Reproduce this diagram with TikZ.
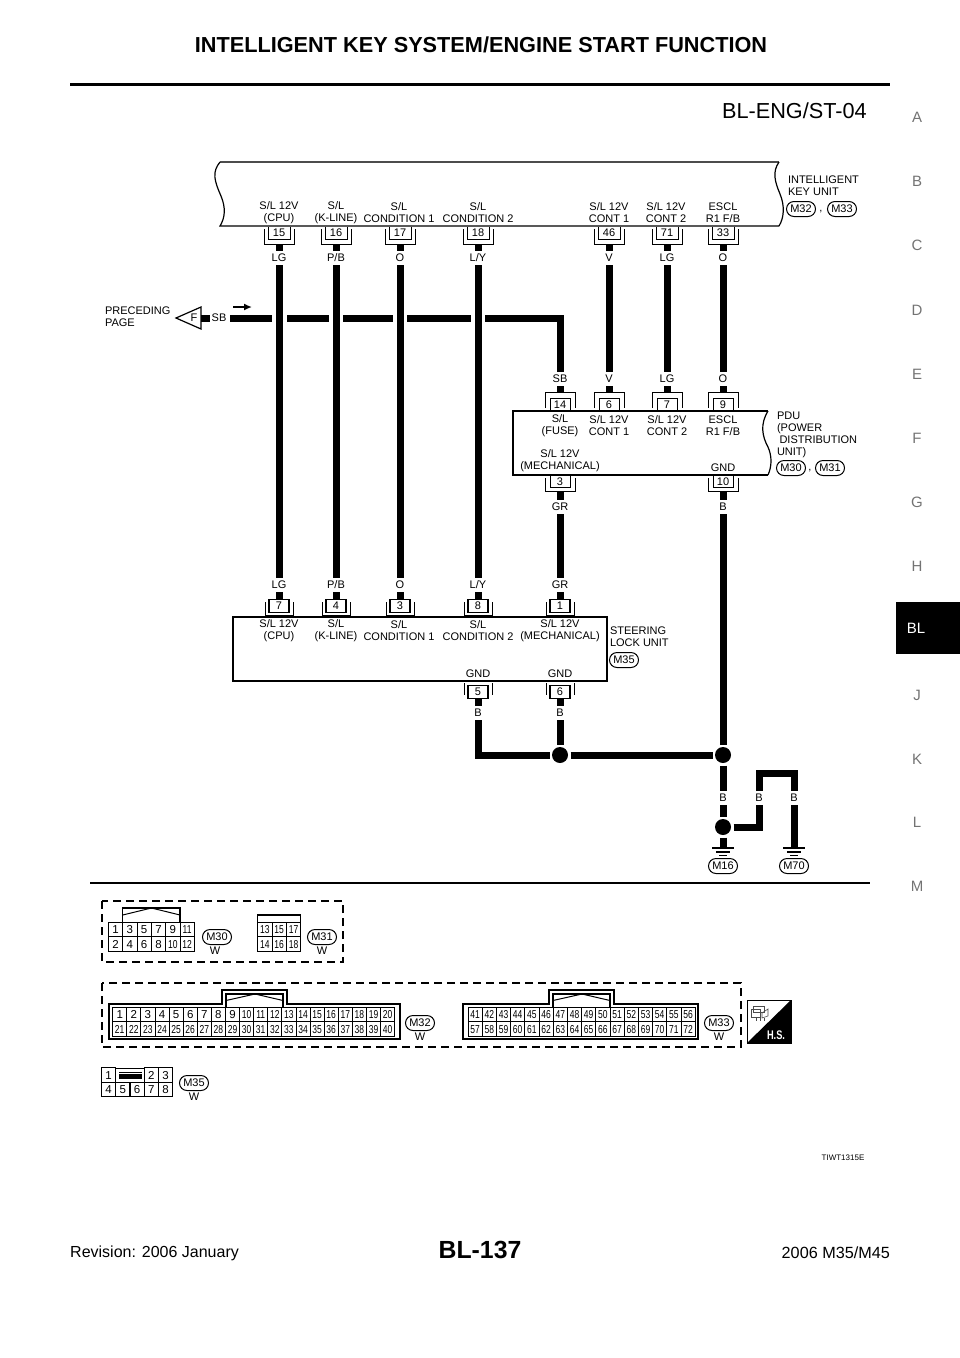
\documentclass[tikz,border=0pt]{standalone}
\usepackage{fontspec}
\setmainfont{Liberation Sans}
\newfontfamily\narrowfont[FakeStretch=0.74]{Liberation Sans}
\usetikzlibrary{shapes.misc,arrows.meta}
\newcommand{\cellnum}[1]{\ifnum#1<10 #1\else{\narrowfont #1}\fi}
\newcommand{\fs}[2]{\fontsize{#1}{#2}\selectfont}
\tikzset{
  lbl/.style={inner sep=0pt,outer sep=0pt,align=center,font=\fs{11}{12}},
  mlbl/.style={lbl,yshift=-1.3pt},
  lblL/.style={lbl,align=left,anchor=west},
  wlbl/.style={lbl,minimum height=14pt},
  wire/.style={line width=7pt,line cap=butt,line join=miter},
  body/.style={line width=1.2pt},
  capsule/.style={draw,rounded rectangle,line width=1pt,inner sep=0pt,minimum width=29pt,minimum height=15pt,font=\fs{11}{12}},
  pinbox/.style={inner sep=0pt,outer sep=0pt,minimum width=30pt,minimum height=18pt,font=\fs{11}{12}},
  pinln/.style={line width=1pt},
  junction/.style={circle,fill=black,inner sep=0pt,minimum size=16pt,outer sep=2.5pt},
  cell/.style={draw,line width=.8pt,inner sep=0pt,outer sep=0pt,font=\fs{11.5}{12},text height=8.2pt,text depth=0pt},
  dashbox/.style={line width=1.3pt,dash pattern=on 8pt off 5pt},
  conn/.style={line width=1.2pt},
  sideL/.style={inner sep=0pt,font=\fs{15}{16},text=black!55},
}
% top unit pin (hangs under a body, U shapes)
\newcommand{\pinU}[3]{%
  \node[pinbox] (#1) at (#2,235) {};
  \node[inner sep=0pt,font=\fs{11}{12}] (#1n) at (#2,233) {#3};
  \draw[pinln] (#2-11,227)--(#2-11,239)--(#2+11,239)--(#2+11,227);
  \draw[pinln] (#2-15,229)--(#2-15,244)--(#2+15,244)--(#2+15,229);
}
% PDU top pin (inverted U, on the body)
\newcommand{\pinP}[3]{%
  \node[pinbox] (#1) at (#2,401) {};
  \node[inner sep=0pt,font=\fs{11}{12}] (#1n) at (#2,404.5) {#3};
  \draw[pinln] (#2-10,410)--(#2-10,398)--(#2+10,398)--(#2+10,410);
  \draw[pinln] (#2-15,408)--(#2-15,392)--(#2+15,392)--(#2+15,408);
}
% PDU bottom pin
\newcommand{\pinQ}[3]{%
  \node[pinbox] (#1) at (#2,482) {};
  \node[inner sep=0pt,font=\fs{11}{12}] (#1n) at (#2,482) {#3};
  \draw[pinln] (#2-10,476)--(#2-10,487)--(#2+10,487)--(#2+10,476);
  \draw[pinln] (#2-15,478)--(#2-15,491)--(#2+15,491)--(#2+15,478);
}
% steering top pin
\newcommand{\pinS}[3]{%
  \node[pinbox] (#1) at (#2,607) {};
  \node[draw,line width=1.2pt,inner sep=0pt,minimum width=20pt,minimum height=13pt,font=\fs{11}{12}] (#1n) at (#2,606) {#3};
  \draw[pinln] (#2-14,602)--(#2-14,615)--(#2+14,615)--(#2+14,602);
}
% steering bottom pin
\newcommand{\pinT}[3]{%
  \node[pinbox] (#1) at (#2,691) {};
  \node[draw,line width=1.2pt,inner sep=0pt,minimum width=20pt,minimum height=13pt,font=\fs{11}{12}] (#1n) at (#2,692) {#3};
  \draw[pinln] (#2-14,683)--(#2-14,695);
  \draw[pinln] (#2+14,683)--(#2+14,695);
}
\begin{document}
\begin{tikzpicture}[x=1pt,y=-1pt]
\useasboundingbox (0,0) rectangle (960,1358);

% page furniture
\node[inner sep=0pt,font=\bfseries\fs{21.7}{23}] (title) at (481,45) {INTELLIGENT KEY SYSTEM/ENGINE START FUNCTION};
\coordinate (ruleL) at (70,84); \coordinate (ruleR) at (890,84);
\draw[line width=3pt] (ruleL)--(ruleR);
\node[inner sep=0pt,anchor=east,font=\fs{21.7}{23}] (code) at (867,111) {BL-ENG/ST-04};
\foreach \t/\y in {A/117,B/181,C/245,D/310,E/374,F/438,G/502,H/566,J/695,K/759,L/822,M/886}
  \node[sideL] (side\t) at (917,\y) {\t};
\fill[black] (896,602) rectangle (960,654);
\node[inner sep=0pt,text=white,font=\fs{15}{16}] (sideBL) at (916,628) {BL};
\node[inner sep=0pt,anchor=west,font=\fs{16}{18}] (rev) at (70,1253) {Revision: 2006 January};
\node[inner sep=0pt,font=\bfseries\fs{24.8}{26}] (pg) at (480,1250) {BL-137};
\node[inner sep=0pt,anchor=east,font=\fs{16.2}{18}] (yr) at (890,1253) {2006 M35/M45};
\node[inner sep=0pt,font=\fs{8}{9}] (tiwt) at (843,1158) {TIWT1315E};
\coordinate (sepL) at (90,883); \coordinate (sepR) at (870,883);
\draw[line width=2pt] (sepL)--(sepR);

% intelligent key unit body
\draw[line width=2pt,black!70] (220,162)--(779,162);
\draw[body] (220,162) .. controls (212,172) and (214,180) .. (221,196) .. controls (226,208) and (225,218) .. (220,226) -- (779,226);
\draw[body] (779,162) .. controls (772,172) and (775,182) .. (780,194) .. controls (785,206) and (784,218) .. (779,226);
\node[mlbl] (k1) at (279,211) {S/L 12V\\(CPU)};
\node[mlbl] (k2) at (336,211) {S/L\\(K-LINE)};
\node[mlbl] (k3) at (399,211) {S/L\\CONDITION 1};
\node[mlbl] (k4) at (478,211) {S/L\\CONDITION 2};
\node[mlbl] (k5) at (609,211) {S/L 12V\\CONT 1};
\node[mlbl] (k6) at (666,211) {S/L 12V\\CONT 2};
\node[mlbl] (k7) at (723,211) {ESCL\\R1 F/B};
\node[lblL] (kname) at (788,185.5) {INTELLIGENT\\KEY UNIT};
\node[capsule] (cM32) at (801,209) {M32};
\node[lbl] (kcomma) at (821,212) {,};
\node[capsule] (cM33) at (842,209) {M33};

\pinU{p15}{279}{15}\pinU{p16}{336}{16}\pinU{p17}{400}{17}\pinU{p18}{478}{18}
\pinU{p46}{609}{46}\pinU{p71}{667}{71}\pinU{p33}{723}{33}
\node[wlbl] (t15) at (279,258) {LG};
\node[wlbl] (t16) at (336,258) {P/B};
\node[wlbl] (t17) at (400,258) {O};
\node[wlbl] (t18) at (478,258) {L/Y};
\node[wlbl] (t46) at (609,258) {V};
\node[wlbl] (t71) at (667,258) {LG};
\node[wlbl] (t33) at (723,258) {O};
\foreach \n in {15,16,17,18,46,71,33} \draw[wire] (p\n.south)--(t\n.north);

% PDU body
\draw[body] (768,411)--(513,411)--(513,475)--(768,475);
\draw[body] (768,411) .. controls (760,424) and (762,436) .. (768,447) .. controls (772,456) and (772,466) .. (768,475);
\node[mlbl] (d1) at (560,424) {S/L\\(FUSE)};
\node[mlbl] (d2) at (609,424) {S/L 12V\\CONT 1};
\node[mlbl] (d3) at (667,424) {S/L 12V\\CONT 2};
\node[mlbl] (d4) at (723,424) {ESCL\\R1 F/B};
\node[mlbl] (d5) at (560,459) {S/L 12V\\(MECHANICAL)};
\node[lbl] (d6) at (723,468) {GND};
\node[lblL] (dname) at (777,435) {PDU\\(POWER\\[-.5pt]\hspace*{2.5pt}DISTRIBUTION\\UNIT)};
\node[capsule] (cM30) at (791,468) {M30};
\node[lbl] (dcomma) at (810,471) {,};
\node[capsule] (cM31) at (830,468) {M31};
\pinP{q14}{560}{14}\pinP{q6}{609}{6}\pinP{q7}{667}{7}\pinP{q9}{723}{9}
\pinQ{q3}{560}{3}\pinQ{q10}{723}{10}
\node[wlbl] (u14) at (560,379) {SB};
\node[wlbl] (u6) at (609,379) {V};
\node[wlbl] (u7) at (667,379) {LG};
\node[wlbl] (u9) at (723,379) {O};
\node[wlbl] (u3) at (560,507) {GR};
\node[wlbl] (u10) at (723,507) {B};
\foreach \n in {14,6,7,9} \draw[wire] (u\n.south)--(q\n.north);
\foreach \n in {3,10} \draw[wire] (q\n.south)--(u\n.north);
\draw[wire] (t46.south)--(u6.north);
\draw[wire] (t71.south)--(u7.north);
\draw[wire] (t33.south)--(u9.north);

% preceding page
\node[lblL] (prec) at (105,316.5) {PRECEDING\\PAGE};
\coordinate (triA) at (176,318); \coordinate (triT) at (201,307); \coordinate (triB) at (201,329);
\draw[line width=1.2pt] (triA)--(triT)--(triB)--cycle;
\node[lbl] (triF) at (194,318) {F};
\node[lbl,inner xsep=1.5pt] (sbL) at (219,318) {SB};
\draw[wire] (triT|-triA)--(sbL.west);
\coordinate (arA) at (233,307); \coordinate (arB) at (252,307);
\draw[line width=1.6pt,-{Latex[length=8pt,width=7pt]}] (arA)--(arB);
\coordinate (g1a) at (272,318); \coordinate (g1b) at (287,318);
\coordinate (g2a) at (329,318); \coordinate (g2b) at (343,318);
\coordinate (g3a) at (393,318); \coordinate (g3b) at (407,318);
\coordinate (g4a) at (471,318); \coordinate (g4b) at (485,318);
\coordinate (wsbS) at (230,318);
\draw[wire] (wsbS)--(g1a);
\draw[wire] (g1b)--(g2a);
\draw[wire] (g2b)--(g3a);
\draw[wire] (g3b)--(g4a);
\draw[wire] (g4b)-|(u14.north);

% steering lock unit
\draw[body] (233,617) rectangle (607,681);
\node[mlbl] (s1) at (279,629.5) {S/L 12V\\(CPU)};
\node[mlbl] (s2) at (336,629.5) {S/L\\(K-LINE)};
\node[mlbl] (s3) at (399,629.5) {S/L\\CONDITION 1};
\node[mlbl] (s4) at (478,629.5) {S/L\\CONDITION 2};
\node[mlbl] (s5) at (560,629.5) {S/L 12V\\(MECHANICAL)};
\node[lbl] (s6) at (478,674) {GND};
\node[lbl] (s7) at (560,674) {GND};
\node[lblL] (sname) at (610,636.5) {STEERING\\LOCK UNIT};
\node[capsule] (cM35) at (624,660) {M35};
\pinS{r7}{279}{7}\pinS{r4}{336}{4}\pinS{r3}{400}{3}\pinS{r8}{478}{8}\pinS{r1}{560}{1}
\pinT{r5}{478}{5}\pinT{r6}{560}{6}
\node[wlbl] (v7) at (279,585) {LG};
\node[wlbl] (v4) at (336,585) {P/B};
\node[wlbl] (v3) at (400,585) {O};
\node[wlbl] (v8) at (478,585) {L/Y};
\node[wlbl] (v1) at (560,585) {GR};
\node[wlbl] (v5) at (478,713) {B};
\node[wlbl] (v6) at (560,713) {B};
\draw[wire] (v7.south)--(r7n.north);
\draw[wire] (v4.south)--(r4n.north);
\draw[wire] (v3.south)--(r3n.north);
\draw[wire] (v8.south)--(r8n.north);
\draw[wire] (v1.south)--(r1n.north);
\draw[wire] (r5n.south)--(v5.north);
\draw[wire] (r6n.south)--(v6.north);
\draw[wire] (t15.south)--(v7.north);
\draw[wire] (t16.south)--(v4.north);
\draw[wire] (t17.south)--(v3.north);
\draw[wire] (t18.south)--(v8.north);
\draw[wire] (u3.south)--(v1.north);

% ground network
\node[junction] (j1) at (560,755) {};
\node[junction] (j2) at (723,755) {};
\node[junction] (j3) at (723,827) {};
\node[wlbl] (b1) at (723,798) {B};
\node[wlbl] (b2) at (759,798) {B};
\node[wlbl] (b3) at (794,798) {B};
\coordinate (g16) at (723,848); \coordinate (g70) at (794,848);
\draw[wire] (v5.south)|-(j1.west);
\draw[wire] (v6.south)--(j1.north);
\draw[wire] (j1.east)--(j2.west);
\draw[wire] (u10.south)--(j2.north);
\draw[wire] (j2.south)--(b1.north);
\draw[wire] (b1.south)--(j3.north);
\draw[wire] (j3.south)--(g16);
\draw[wire] (j3.east)-|(b2.south);
\draw[wire] (b2.north)--++(0,-18)-|(b3.north);
\draw[wire] (b3.south)--(g70);
\foreach \g in {g16,g70}{
  \draw[line width=1.3pt] ([xshift=-11pt]\g)--([xshift=11pt]\g);
  \draw[line width=1.1pt] ([xshift=-7pt,yshift=-4pt]\g)--([xshift=7pt,yshift=-4pt]\g);
  \draw[line width=1.1pt] ([xshift=-4pt,yshift=-7.5pt]\g)--([xshift=4pt,yshift=-7.5pt]\g);
}
\node[capsule] (cM16) at (723,866) {M16};
\node[capsule] (cM70) at (794,866) {M70};

% connector views: M30 / M31
\draw[dashbox] (102,901) rectangle (343,962);
\draw[conn] (122.7,922)--(122.7,908)--(180,908)--(180,922);
\draw[line width=1pt] (122.7,915)--(151.5,908)--(180,915);
\foreach \n [count=\i from 0] in {1,3,5,7,9,11}
  \node[cell,minimum width=14.33pt,minimum height=14.5pt] (a\n) at ({115.5+\i*14.33},929.5) {\cellnum{\n}};
\foreach \n [count=\i from 0] in {2,4,6,8,10,12}
  \node[cell,minimum width=14.33pt,minimum height=14.5pt] (a\n) at ({115.5+\i*14.33},944) {\cellnum{\n}};
\node[capsule] (cM30b) at (217,937) {M30};
\node[lbl] (w30) at (215,951) {W};
\draw[conn] (257.7,922)--(257.7,915)--(300.7,915)--(300.7,922);
\foreach \n [count=\i from 0] in {13,15,17}
  \node[cell,minimum width=14.33pt,minimum height=14.5pt] (a\n) at ({264.9+\i*14.33},929.5) {\cellnum{\n}};
\foreach \n [count=\i from 0] in {14,16,18}
  \node[cell,minimum width=14.33pt,minimum height=14.5pt] (a\n) at ({264.9+\i*14.33},944) {\cellnum{\n}};
\node[capsule] (cM31b) at (322,937) {M31};
\node[lbl] (w31) at (322,951) {W};

% connector views: M32 / M33
\draw[dashbox] (102,983) rectangle (741,1047);
\draw[conn] (109,1004)--(222,1004)--(222,990)--(287,990)--(287,1004)--(400,1004)--(400,1039)--(109,1039)--cycle;
\draw[conn] (226,1007)--(226,994)--(283,994)--(283,1007);
\draw[line width=1pt] (226,1000.5)--(255,994)--(283,1000.5);
\foreach \i in {0,...,19}{
  \pgfmathtruncatemacro{\n}{\i+1}
  \pgfmathtruncatemacro{\m}{\i+21}
  \node[cell,minimum width=14.1pt,minimum height=14.5pt] (b\n) at ({119.7+\i*14.1},1014.5) {\cellnum{\n}};
  \node[cell,minimum width=14.1pt,minimum height=14.5pt] (b\m) at ({119.7+\i*14.1},1029) {\cellnum{\m}};
}
\node[capsule] (cM32b) at (420,1023) {M32};
\node[lbl] (w32) at (420,1037) {W};
\draw[conn] (463,1004)--(549,1004)--(549,990)--(614,990)--(614,1004)--(698,1004)--(698,1039)--(463,1039)--cycle;
\draw[conn] (553,1007)--(553,994)--(610,994)--(610,1007);
\draw[line width=1pt] (553,1000.5)--(582,994)--(610,1000.5);
\foreach \i in {0,...,15}{
  \pgfmathtruncatemacro{\n}{\i+41}
  \pgfmathtruncatemacro{\m}{\i+57}
  \node[cell,minimum width=14.2pt,minimum height=14.5pt] (b\n) at ({475.1+\i*14.2},1014.5) {\cellnum{\n}};
  \node[cell,minimum width=14.2pt,minimum height=14.5pt] (b\m) at ({475.1+\i*14.2},1029) {\cellnum{\m}};
}
\node[capsule] (cM33b) at (719,1023) {M33};
\node[lbl] (w33) at (719,1037) {W};

% harness symbol
\draw[line width=.8pt] (747,1000) rectangle (791,1043);
\fill[black] (791,1000)--(791,1043)--(747,1043)--cycle;
\node[inner sep=0pt,text=white,font=\bfseries\narrowfont\fs{12.5}{13}] (hs) at (776,1035) {H.S.};
\draw[line width=.6pt,black!70] (751,1009) rectangle (760,1017);
\draw[line width=.6pt,black!70] (753,1006) rectangle (764,1012);
\draw[line width=.6pt,black!70] (762,1013)--(768,1009)--(768,1016)--(762,1018)--cycle;
\draw[line width=.5pt,black!70] (756,1017)--(756,1021) (760,1018)--(760,1021) (764,1018)--(764,1021);

% connector view: M35
\foreach \n/\x in {1/108.5,2/151.2,3/165.5}
  \node[cell,minimum width=14.3pt,minimum height=14.5pt] (e\n) at (\x,1075) {\cellnum{\n}};
\foreach \n/\x in {4/108.5,5/122.8,6/137,7/151.2,8/165.5}
  \node[cell,minimum width=14.3pt,minimum height=14.5pt] (e\n) at (\x,1089.5) {\cellnum{\n}};
\draw[line width=.8pt] (115.6,1068)--(144.2,1068);
\fill[black] (119,1074) rectangle (142,1079);
\draw[line width=.8pt] (119,1072)--(142,1072);
\node[capsule] (cM35b) at (194,1083) {M35};
\node[lbl] (w35) at (194,1097) {W};
\end{tikzpicture}
\end{document}
